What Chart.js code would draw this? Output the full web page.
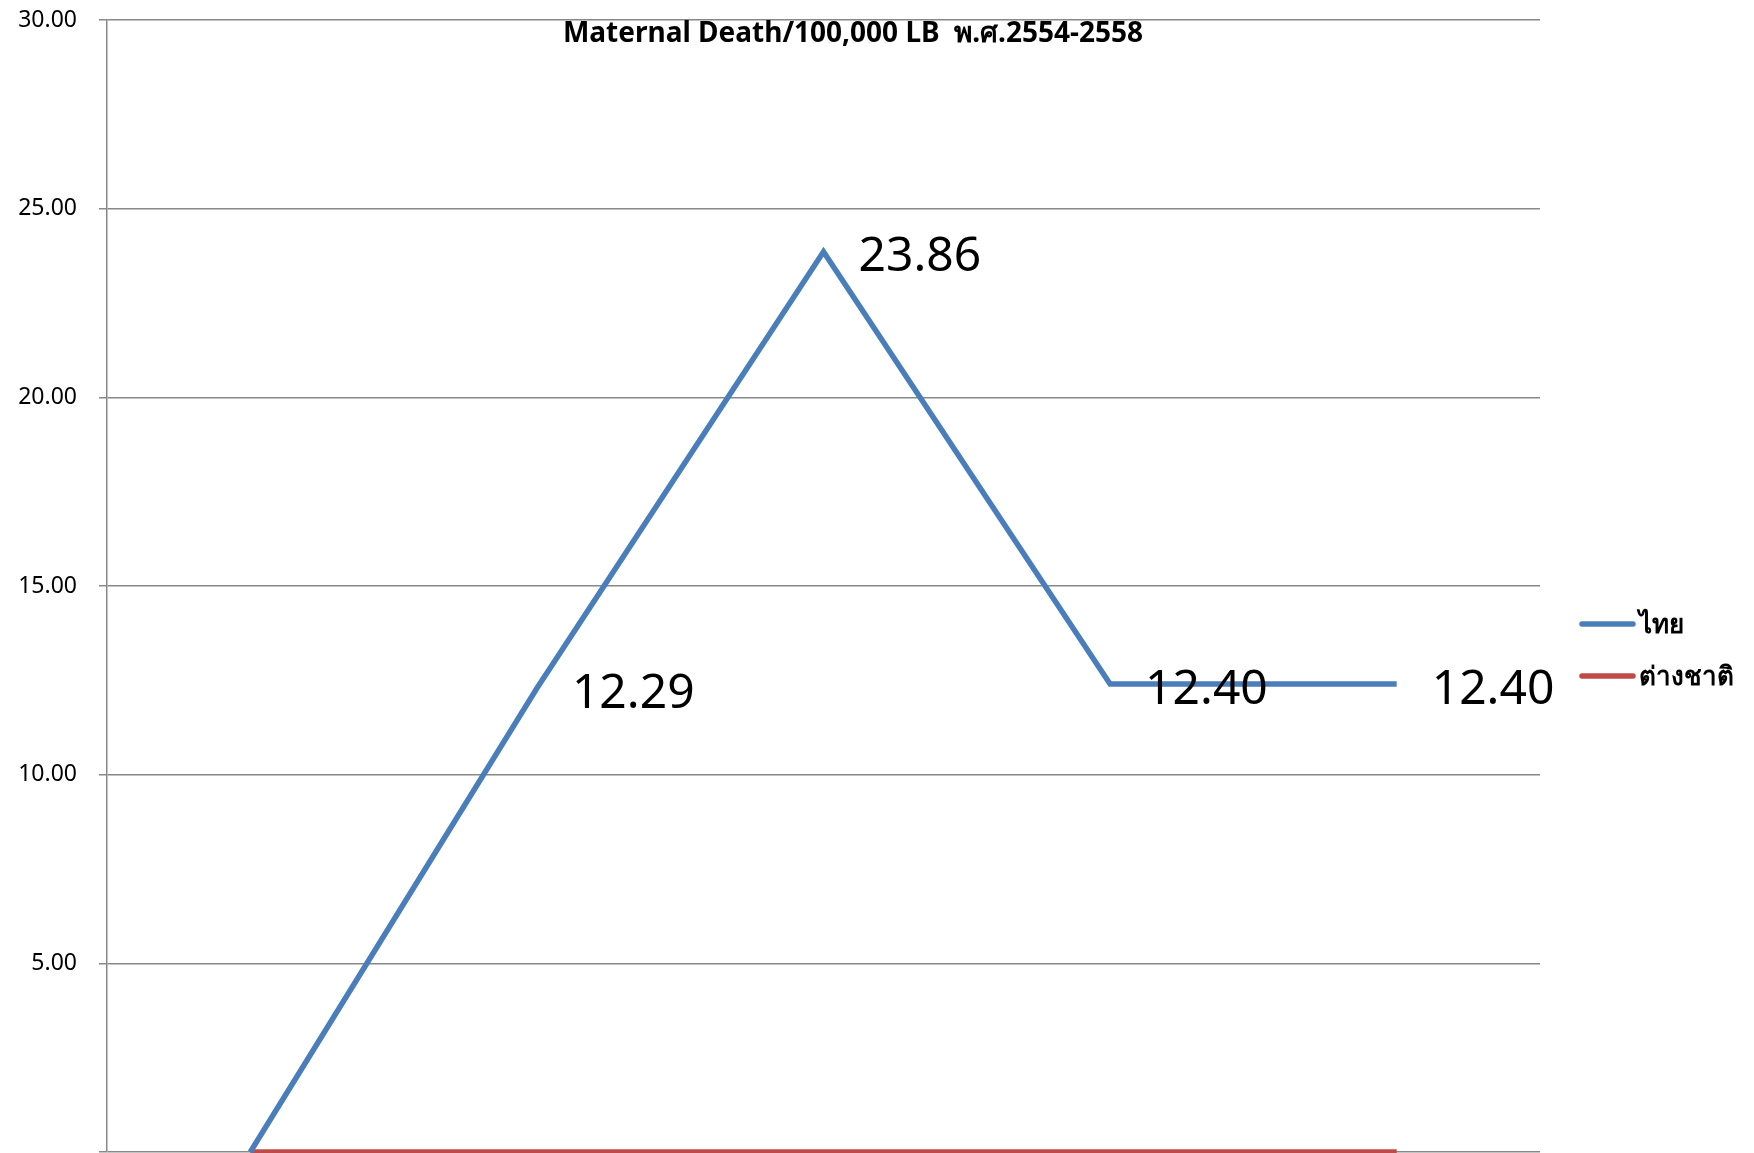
<html>
<head>
<meta charset="utf-8">
<style>
    body { margin: 0; background: #fff; }
</style>
</head>
<body>
    <canvas id="myChart" width="1754" height="1153"></canvas>
    <script src="https://cdn.jsdelivr.net/npm/chart.js"></script>
    <script>
        // 데이터
        const years = ['2554', '2555', '2556', '2557', '2558'];
        const thaiValues = [0, 12.29, 23.86, 12.40, 12.40];
        const foreignValues = [0, 0, 0, 0, 0];
        const seriesNames = ['ไทย', 'ต่างชาติ'];
        const yTicks = [0, 5, 10, 15, 20, 25, 30];
        const chartTitle = 'Maternal Death/100,000 LB  พ.ศ.2554-2558';

        const fontFamily = '"Noto Sans", "DejaVu Sans", sans-serif';
        const chartCanvas = document.querySelector('#myChart');

        // 데이터 라벨 + 제목 + 범례를 직접 그리는 플러그인
        const extras = {
            id: 'extras',
            afterDatasetsDraw(chart) {
                const ctx = chart.ctx;
                ctx.save();
                // 데이터 라벨 (ไทย 시리즈)
                const meta = chart.getDatasetMeta(0);
                ctx.fillStyle = '#000';
                ctx.font = '48px ' + fontFamily;
                ctx.textAlign = 'left';
                ctx.textBaseline = 'middle';
                meta.data.forEach((pt, i) => {
                    const v = thaiValues[i];
                    if (v > 0) ctx.fillText(v.toFixed(2), pt.x + 35, pt.y + 6);
                });

                // 제목
                ctx.font = 'bold 28px ' + fontFamily;
                ctx.textAlign = 'center';
                ctx.fillText(chartTitle, 853, 34);

                // 범례
                ctx.font = 'bold 26px ' + fontFamily;
                ctx.textAlign = 'left';
                chart.data.datasets.forEach((ds, i) => {
                    const y = 624 + i * 52;
                    ctx.strokeStyle = ds.borderColor;
                    ctx.lineWidth = 5.5;
                    ctx.lineCap = 'round';
                    ctx.beginPath();
                    ctx.moveTo(1582, y);
                    ctx.lineTo(1633, y);
                    ctx.stroke();
                    ctx.fillText(ds.label, 1639, y + 2);
                });
                ctx.restore();
            }
        };

        new Chart(chartCanvas, {
            type: 'line',
            data: {
                labels: years,
                datasets: [{
                    label: seriesNames[0],
                    data: thaiValues,
                    borderColor: '#4a7ebb',
                    borderWidth: 5.5,
                    pointRadius: 0,
                    tension: 0,
                    clip: false
                }, {
                    label: seriesNames[1],
                    data: foreignValues,
                    borderColor: '#be4b48',
                    borderWidth: 5.5,
                    pointRadius: 0,
                    tension: 0,
                    clip: false
                }]
            },
            options: {
                responsive: false,
                animation: false,
                layout: { padding: { top: 20, right: 214, bottom: 1, left: 0 } },
                plugins: {
                    legend: { display: false },
                    title: { display: false },
                    tooltip: { enabled: false }
                },
                scales: {
                    x: {
                        display: false,
                        offset: true
                    },
                    y: {
                        min: yTicks[0],
                        max: yTicks[yTicks.length - 1],
                        afterBuildTicks: scale => { scale.ticks = yTicks.map(v => ({ value: v })); },
                        afterFit: scale => {
                            scale.width = 107;
                            scale.paddingTop = 0;
                            scale.paddingBottom = 0;
                        },
                        grid: { color: '#888', lineWidth: 1.5, tickLength: 8 },
                        border: { color: '#888', width: 1.5 },
                        ticks: {
                            padding: 22,
                            color: '#000',
                            font: { family: fontFamily, size: 23 },
                            callback: v => v === 0 ? '' : v.toFixed(2)
                        }
                    }
                }
            },
            plugins: [extras]
        });
    </script>
</body>
</html>
